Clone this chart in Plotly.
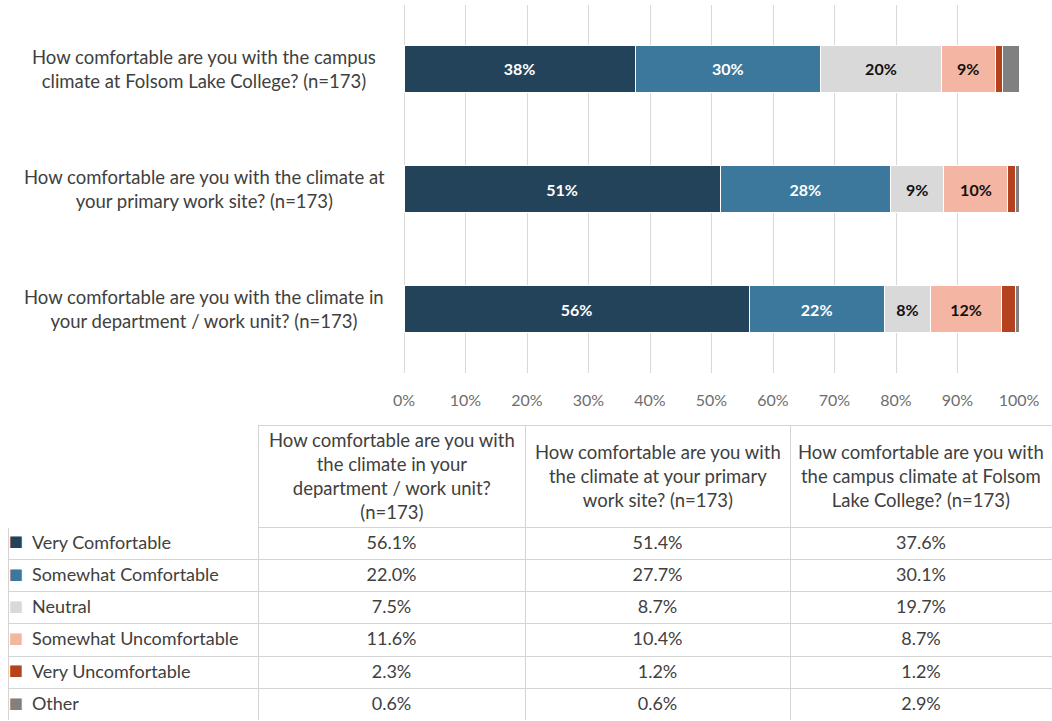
import textwrap
import plotly.graph_objects as go

# Survey questions (bottom to top in the bar chart, left to right in the table)
questions = [
    "How comfortable are you with the climate in your department / work unit? (n=173)",
    "How comfortable are you with the climate at your primary work site? (n=173)",
    "How comfortable are you with the campus climate at Folsom Lake College? (n=173)",
]

responses = [
    "Very Comfortable",
    "Somewhat Comfortable",
    "Neutral",
    "Somewhat Uncomfortable",
    "Very Uncomfortable",
    "Other",
]

# Percent of respondents per response, one list per question
dept_unit = [56.1, 22.0, 7.5, 11.6, 2.3, 0.6]
work_site = [51.4, 27.7, 8.7, 10.4, 1.2, 0.6]
campus = [37.6, 30.1, 19.7, 8.7, 1.2, 2.9]

colors = ["#23435a", "#3b789c", "#d9d9d9", "#f4b6a3", "#b5421f", "#808080"]
label_colors = ["#ffffff", "#ffffff", "#111111", "#111111", "#ffffff", "#ffffff"]

FONT = "Lato"
TEXT = "#404040"
GRID = "#d4d4d4"
CLEAR = "rgba(0,0,0,0)"
W, H = 1052, 721

by_question = [dept_unit, work_site, campus]
axis_labels = ["<br>".join(textwrap.wrap(q, 43)) for q in questions]
table_heads = ["<br>".join(textwrap.wrap(q, 28)) for q in questions]


def bar_label(v):
    # Segments under 5% stay unlabeled
    return f"{int(v + 0.5)}%" if v >= 5 else ""


fig = go.Figure()

for i, (resp, col, tcol) in enumerate(zip(responses, colors, label_colors)):
    vals = [series[i] for series in by_question]
    fig.add_trace(go.Bar(
        y=questions,
        x=vals,
        orientation="h",
        name=resp,
        marker=dict(color=col, line=dict(color="white", width=1)),
        text=[bar_label(v) for v in vals],
        textposition="inside",
        insidetextanchor="middle",
        textfont=dict(family=FONT, size=16, color=tcol, weight="bold"),
        showlegend=False,
        hoverinfo="x+name",
    ))

# Question labels beside the bars, each line centred
for q, lab in zip(questions, axis_labels):
    fig.add_annotation(
        x=204 / W, xref="paper", y=q, yref="y",
        text=lab, showarrow=False, xanchor="center", yanchor="middle",
        align="center", font=dict(family=FONT, size=18.5, color=TEXT),
    )

# ---- summary table ----
table_left, table_top = 8, 425
col_widths = [250, 267, 265, 262]
header_h, row_h = 102, 32.3
table_h = header_h + row_h * len(responses)
table_dom_y = [max(0.0, (H - table_top - table_h) / H), (H - table_top) / H]

# Grid and values; the first column is left empty for the legend overlay
fig.add_trace(go.Table(
    domain=dict(x=[table_left / W, 1.0], y=table_dom_y),
    columnwidth=col_widths,
    header=dict(
        values=["", "", "", ""],
        height=header_h,
        fill_color="white",
        line=dict(color=["white", GRID, GRID, GRID], width=1),
        font=dict(family=FONT, size=18, color=TEXT),
    ),
    cells=dict(
        values=[[""] * len(responses), dept_unit, work_site, campus],
        format=["", ".1f", ".1f", ".1f"],
        suffix=["", "%", "%", "%"],
        align=["left", "center", "center", "center"],
        height=row_h,
        fill_color="white",
        line=dict(color=GRID, width=1),
        font=dict(family=FONT, size=18, color=TEXT),
    ),
))

# Legend swatches and response names in the first column
NB = "\u00a0"
swatch_w = 16
fig.add_trace(go.Table(
    domain=dict(x=[table_left / W, (table_left + col_widths[0]) / W], y=table_dom_y),
    columnwidth=[swatch_w, col_widths[0] - swatch_w],
    header=dict(
        values=["", ""], height=header_h,
        fill_color=CLEAR, line=dict(color=CLEAR, width=0),
    ),
    cells=dict(
        values=[["■"] * len(responses), [r.replace(" ", NB) for r in responses]],
        align=["center", "left"],
        height=row_h,
        fill_color=CLEAR,
        line=dict(color=CLEAR, width=0),
        font=dict(
            family=["DejaVu Sans", FONT],
            size=[15, 18],
            color=[colors, [TEXT] * len(responses)],
        ),
    ),
))

# Column headings, centred line by line over each value column
x0 = table_left + col_widths[0]
for head, cw in zip(table_heads, col_widths[1:]):
    fig.add_annotation(
        x=(x0 + cw / 2) / W, xref="paper",
        y=(H - table_top - header_h / 2) / H, yref="paper",
        text=head, showarrow=False, xanchor="center", yanchor="middle",
        align="center", font=dict(family=FONT, size=18.5, color=TEXT),
    )
    x0 += cw

fig.update_layout(
    template="none",
    width=W,
    height=H,
    margin=dict(l=0, r=0, t=0, b=0, autoexpand=False),
    paper_bgcolor="white",
    plot_bgcolor="white",
    barmode="stack",
    bargap=0.61,
    font=dict(family=FONT, color=TEXT),
    xaxis=dict(
        domain=[404 / W, 1019 / W],
        range=[0, 100],
        dtick=10,
        ticksuffix="%",
        showgrid=True,
        gridcolor="#d9d9d9",
        gridwidth=1,
        zeroline=True,
        zerolinecolor="#d9d9d9",
        zerolinewidth=1,
        showline=False,
        ticks="",
        automargin=False,
        ticklabelstandoff=16,
        tickfont=dict(family=FONT, size=16, color="#6e6e6e"),
        fixedrange=True,
    ),
    yaxis=dict(
        domain=[(H - 373) / H, (H - 5) / H],
        range=[-0.533, 2.533],
        showticklabels=False,
        showgrid=False,
        zeroline=False,
        automargin=False,
        fixedrange=True,
    ),
)

fig.write_html("out.html")
